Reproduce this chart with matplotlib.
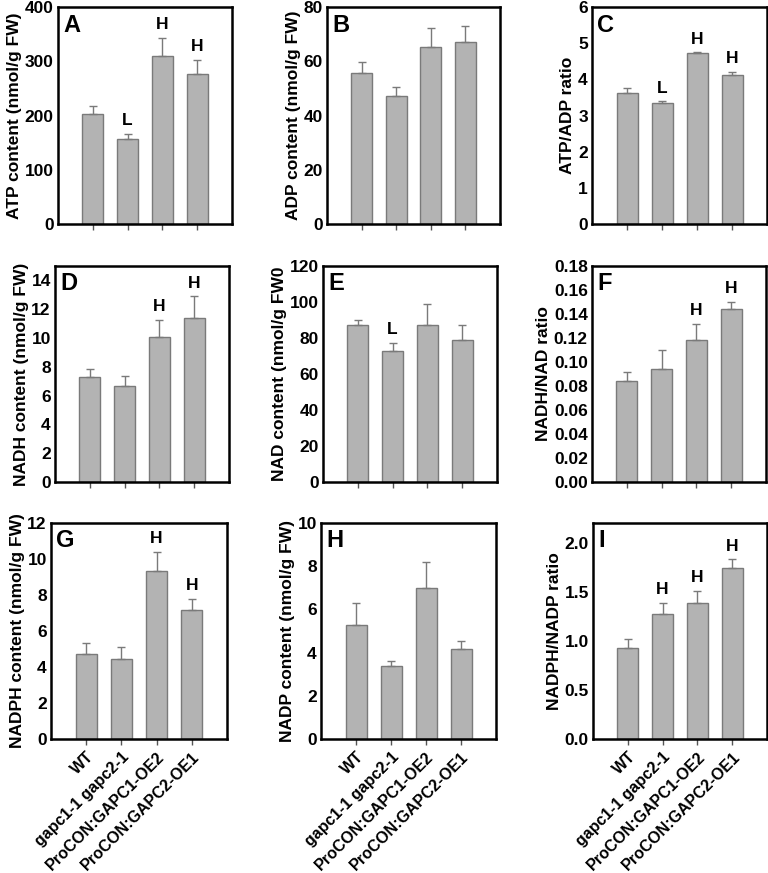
import matplotlib
matplotlib.use('Agg')
import matplotlib.pyplot as plt
import numpy as np

plt.rcParams['font.family'] = ['Liberation Sans', 'DejaVu Sans']
plt.rcParams['font.weight'] = 'bold'

# genotipos
genotipos = ['WT', 'gapc1-1 gapc2-1', 'ProCON:GAPC1-OE2', 'ProCON:GAPC2-OE1']

# datos de cada panel: media, error, marca de significancia
atp = [202, 157, 310, 277]
atp_err = [16, 9, 33, 26]
atp_sig = ['', 'L', 'H', 'H']

adp = [55.7, 47.2, 65.2, 67.1]
adp_err = [4.0, 3.2, 7.2, 5.8]
adp_sig = ['', '', '', '']

atp_adp = [3.62, 3.34, 4.72, 4.13]
atp_adp_err = [0.13, 0.05, 0.03, 0.08]
atp_adp_sig = ['', 'L', 'H', 'H']

nadh = [7.3, 6.65, 10.05, 11.4]
nadh_err = [0.55, 0.7, 1.2, 1.5]
nadh_sig = ['', '', 'H', 'H']

nad = [87.5, 73.0, 87.0, 79.0]
nad_err = [2.5, 4.5, 12.0, 8.5]
nad_sig = ['', 'L', '', '']

nadh_nad = [0.084, 0.094, 0.118, 0.144]
nadh_nad_err = [0.008, 0.016, 0.014, 0.006]
nadh_nad_sig = ['', '', 'H', 'H']

nadph = [4.75, 4.45, 9.35, 7.15]
nadph_err = [0.6, 0.65, 1.05, 0.65]
nadph_sig = ['', '', 'H', 'H']

nadp = [5.3, 3.4, 7.0, 4.15]
nadp_err = [1.0, 0.22, 1.2, 0.37]
nadp_sig = ['', '', '', '']

nadph_nadp = [0.93, 1.27, 1.39, 1.74]
nadph_nadp_err = [0.09, 0.12, 0.12, 0.09]
nadph_nadp_sig = ['', 'H', 'H', 'H']

# (letra, valores, errores, marcas, etiqueta, ylim, paso, formato, rect en pixeles)
paneles = [
    ('A', atp, atp_err, atp_sig, 'ATP content (nmol/g FW)', 400, 100, '%d', (58, 7, 232, 224)),
    ('B', adp, adp_err, adp_sig, 'ADP content (nmol/g FW)', 80, 20, '%d', (327, 7, 500, 224)),
    ('C', atp_adp, atp_adp_err, atp_adp_sig, 'ATP/ADP ratio', 6, 1, '%d', (592, 7, 767, 224)),
    ('D', nadh, nadh_err, nadh_sig, 'NADH content (nmol/g FW)', 15, 2, '%d', (55, 266, 229, 482)),
    ('E', nad, nad_err, nad_sig, 'NAD content (nmol/g FW0', 120, 20, '%d', (323, 266, 497, 482)),
    ('F', nadh_nad, nadh_nad_err, nadh_nad_sig, 'NADH/NAD ratio', 0.18, 0.02, '%.2f', (592, 266, 766, 482)),
    ('G', nadph, nadph_err, nadph_sig, 'NADPH content (nmol/g FW)', 12, 2, '%d', (51, 523, 227, 739)),
    ('H', nadp, nadp_err, nadp_sig, 'NADP content (nmol/g FW)', 10, 2, '%d', (321, 523, 496, 739)),
    ('I', nadph_nadp, nadph_nadp_err, nadph_nadp_sig, 'NADPH/NADP ratio', 2.2, 0.5, '%.1f', (593, 523, 767, 739)),
]

W, H = 768, 873
fig = plt.figure(figsize=(W / 100, H / 100), dpi=100)

x = np.arange(len(genotipos))

for i, (letra, vals, errs, sig, etiqueta, ymax, paso, fmt, rect) in enumerate(paneles):
    x0, y0, x1, y1 = rect
    ax = fig.add_axes([x0 / W, 1 - y1 / H, (x1 - x0) / W, (y1 - y0) / H])
    ax.bar(x, vals, width=0.6, color='#b3b3b3', edgecolor='#7a7a7a', linewidth=1, zorder=2)
    ax.errorbar(x, vals, yerr=[np.zeros(len(vals)), errs], fmt='none',
                ecolor='#7a7a7a', elinewidth=1, capsize=3, capthick=1, zorder=3)
    for xi, v, e, s in zip(x, vals, errs, sig):
        if s:
            ax.annotate(s, (xi, v + e), xytext=(0, 4), textcoords='offset points',
                        ha='center', va='bottom', fontsize=12.5, fontweight='bold')
    ax.set_xlim(-1, 4)
    ax.set_ylim(0, ymax)
    ticks = np.arange(0, ymax + 1e-9, paso)
    ax.set_yticks(ticks)
    ax.set_yticklabels([fmt % t for t in ticks])
    ax.tick_params(axis='y', length=0, pad=3, labelsize=12.5)
    ax.tick_params(axis='x', length=4, width=1, color='#555555', direction='out')
    ax.set_xticks(x)
    if i >= 6:
        ax.set_xticklabels(genotipos, rotation=45, ha='right', rotation_mode='anchor',
                           fontsize=11.5, fontweight='bold')
    else:
        ax.set_xticklabels([])
    for lado in ax.spines.values():
        lado.set_linewidth(1.8)
        lado.set_color('black')
    ax.set_ylabel(etiqueta, fontsize=12.5, fontweight='bold', labelpad=2)
    ax.text(0.03, 0.97, letra, transform=ax.transAxes, fontsize=17,
            fontweight='bold', ha='left', va='top')

plt.savefig('out.png', dpi=100)
